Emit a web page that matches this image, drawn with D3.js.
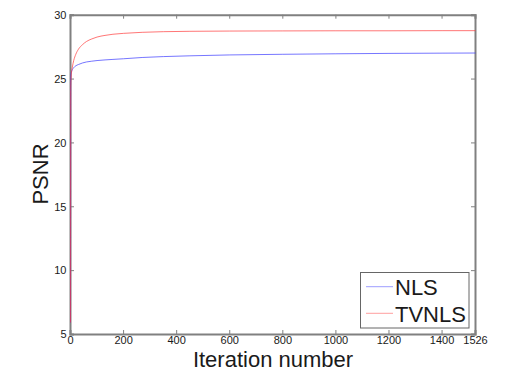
<!DOCTYPE html>
<html><head><meta charset="utf-8">
<script src="https://cdn.jsdelivr.net/npm/d3@7"></script>
<style>body{margin:0;background:#fff}svg{display:block}text{font-family:"Liberation Sans",Arial,sans-serif;fill:#1a1a1a}</style>
</head><body><svg id="c" width="515" height="388"></svg>
<script>
const iterations = [0,1,2,4,7,12,20,30,45,60,80,100,130,160,200,270,350,450,600,800,1000,1200,1400,1526];
const nlsValues  = [5.9,25.2,25.4,25.55,25.7,25.85,26.0,26.1,26.22,26.3,26.36,26.41,26.46,26.5,26.55,26.65,26.72,26.78,26.85,26.9,26.94,26.97,26.99,27.0];
const tvnlsValues= [5.9,24.4,25.0,25.5,25.9,26.4,26.9,27.3,27.65,27.9,28.1,28.25,28.38,28.47,28.54,28.62,28.67,28.7,28.72,28.73,28.74,28.74,28.75,28.75];
const xTicks = [0,200,400,600,800,1000,1200,1400,1526];
const yTicks = [5,10,15,20,25,30];
const seriesNames = ["NLS","TVNLS"];
const seriesColors = ["#3333ff","#ff3333"];

const svg = d3.select("#c");
const L=70,R=475,T=14.7,B=334;
const x = d3.scaleLinear().domain([0,1526]).range([L,R]);
const y = d3.scaleLinear().domain([5,30]).range([B,T]);

const axisColor="#808080";
const gx = svg.append("g").attr("transform",`translate(0,${B})`)
  .call(d3.axisBottom(x).tickValues(xTicks).tickSize(-4).tickPadding(2).tickFormat(d3.format("d")));
const gxt = svg.append("g").attr("transform",`translate(0,${T})`)
  .call(d3.axisTop(x).tickValues(xTicks).tickSize(-4).tickFormat(""));
const gy = svg.append("g").attr("transform",`translate(${L},0)`)
  .call(d3.axisLeft(y).tickValues(yTicks).tickSize(-4).tickPadding(3.5));
const gyr = svg.append("g").attr("transform",`translate(${R},0)`)
  .call(d3.axisRight(y).tickValues(yTicks).tickSize(-4).tickFormat(""));
[gx,gxt,gy,gyr].forEach(g=>{
  g.select(".domain").attr("stroke",axisColor).attr("stroke-width",2);
  g.selectAll(".tick line").attr("stroke",axisColor).attr("stroke-width",1);
  g.selectAll("text").attr("font-size",11).attr("fill","#1a1a1a").attr("font-family",'"Liberation Sans",Arial,sans-serif');
});
gy.selectAll(".tick text").attr("dy","0.35em");

const line = d3.line().x((d,i)=>x(iterations[i])+0.5).y(d=>y(d)).curve(d3.curveMonotoneX);
[nlsValues,tvnlsValues].forEach((vals,k)=>{
  svg.append("path").attr("d",line(vals)).attr("fill","none")
    .attr("stroke",seriesColors[k]).attr("stroke-width",0.9).attr("stroke-opacity",0.75);
});

svg.append("text").attr("x",273).attr("y",367).attr("text-anchor","middle").attr("font-size",22).text("Iteration number");
svg.append("text").attr("transform","translate(48,174) rotate(-90)").attr("text-anchor","middle").attr("font-size",22).text("PSNR");

// legend
const lg = svg.append("g");
lg.append("rect").attr("x",360.5).attr("y",272.5).attr("width",108.5).attr("height",55.5)
  .attr("fill","#fff").attr("stroke","#666").attr("stroke-width",1);
seriesNames.forEach((n,i)=>{
  const yy = 286.7 + i*26.6;
  lg.append("line").attr("x1",366).attr("x2",393).attr("y1",yy).attr("y2",yy)
    .attr("stroke",seriesColors[i]).attr("stroke-width",0.8).attr("stroke-opacity",0.6);
  lg.append("text").attr("x",395).attr("y",yy+8.5).attr("font-size",22).text(n);
});
</script></body></html>
